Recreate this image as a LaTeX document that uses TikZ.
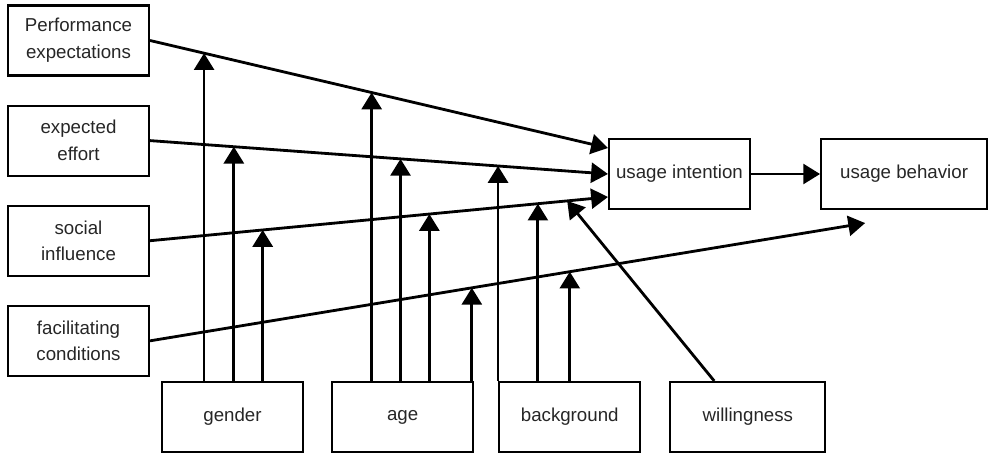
\documentclass[tikz,border=0pt]{standalone}
\usepackage{fontspec}
\setmainfont{Liberation Sans}
\usetikzlibrary{positioning}
\usetikzlibrary{calc}
\usetikzlibrary{arrows.meta}

\begin{document}
\begin{tikzpicture}[
                          factorbox/.style={rectangle, draw, line width=1.5pt, minimum width=3.525cm, minimum height=1.75cm, align=center, text=black!85, font=\fontsize{13.3}{19}\selectfont},
                          widebox/.style={factorbox, minimum width=4.15cm},
                          willbox/.style={factorbox, minimum width=3.875cm},
                          link/.style={->, line width=2pt},
                          >={Triangle[length=0.42cm, width=0.5cm]},
                      ]
                      \useasboundingbox (0,0) rectangle (24.725,-11.425);

                      %Nodes
                      \node[factorbox]    (pe)      at (1.9625,-1.0125)     {Performance\\expectations};
                      \node[factorbox]    (ee)      [below=0.7cm of pe]     {expected\\effort};
                      \node[factorbox]    (si)      [below=0.7cm of ee]     {social\\influence};
                      \node[factorbox]    (fc)      [below=0.7cm of si]     {facilitating\\conditions};
                      \node[factorbox]    (ui)      at (16.9875,-4.35)      {usage intention};
                      \node[widebox]      (ub)      [right=1.725cm of ui]   {usage behavior};
                      \node[factorbox]    (gender)  at (5.8125,-10.425)     {gender};
                      \node[factorbox]    (age)     [right=0.675cm of gender] {age};
                      \node[factorbox]    (bg)      [right=0.6cm of age]    {background};
                      \node[willbox]      (will)    [right=0.7cm of bg]     {willingness};

                      %Ends on the target boxes
                      \coordinate (ui-pe) at ($(ui.west)+(0,0.65)$);
                      \coordinate (ui-si) at ($(ui.west)+(0,-0.575)$);
                      \coordinate (ub-fc) at ($(ub.south)+(-0.975,-0.325)$);
                      \coordinate (w0)    at ($(will.north)+(-0.84,0)$);

                      %Points where the moderators meet the lines
                      \coordinate (g1) at ($(pe.east)!0.118!(ui-pe)$);
                      \coordinate (a1) at ($(pe.east)!0.484!(ui-pe)$);
                      \coordinate (g2) at ($(ee.east)!0.183!(ui.west)$);
                      \coordinate (a2) at ($(ee.east)!0.547!(ui.west)$);
                      \coordinate (b1) at ($(ee.east)!0.760!(ui.west)$);
                      \coordinate (g3) at ($(si.east)!0.246!(ui-si)$);
                      \coordinate (a3) at ($(si.east)!0.610!(ui-si)$);
                      \coordinate (b2) at ($(si.east)!0.847!(ui-si)$);
                      \coordinate (w1) at ($(si.east)!0.911!(ui-si)$);
                      \coordinate (a4) at ($(fc.east)!0.450!(ub-fc)$);
                      \coordinate (b3) at ($(fc.east)!0.587!(ub-fc)$);

                      %Lines
                      \draw[link] (pe.east) -- (ui-pe);
                      \draw[link] (ee.east) -- (ui.west);
                      \draw[link] (si.east) -- (ui-si);
                      \draw[link] (fc.east) -- (ub-fc);
                      \draw[link] (ui.east) -- (ub.west);

                      \draw[link] (g1 |- gender.north) -- (g1);
                      \draw[link] (g2 |- gender.north) -- (g2);
                      \draw[link] (g3 |- gender.north) -- (g3);
                      \draw[link] (a1 |- age.north) -- (a1);
                      \draw[link] (a2 |- age.north) -- (a2);
                      \draw[link] (a3 |- age.north) -- (a3);
                      \draw[link] (a4 |- age.north) -- (a4);
                      \draw[link] (b1 |- bg.north) -- (b1);
                      \draw[link] (b2 |- bg.north) -- (b2);
                      \draw[link] (b3 |- bg.north) -- (b3);
                      \draw[link] (w0) -- (w1);
                  \end{tikzpicture}
\end{document}
